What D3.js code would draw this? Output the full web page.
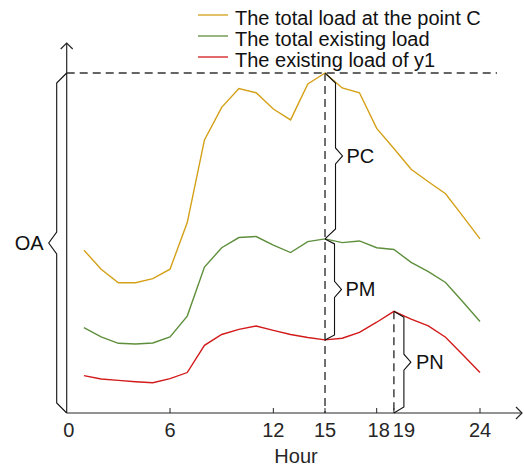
<html>
<head>
<title>Load at point C</title>
<style>
body { margin: 0; background: white; }
svg text { font-family: Arial, 'Liberation Sans', sans-serif; }
.tick-label { font-size: 20px; fill: #262626; }
.legend text { font-size: 20px; fill: #111; }
.brace { fill: none; stroke: #111; stroke-width: 1.1; }
.brace-label { font-size: 20px; fill: #111; }
.guide { stroke: #333; stroke-width: 1.4; stroke-dasharray: 8 5; }
</style>
</head>
<body>
<svg id='plot' width='524' height='471'></svg>

<script src='https://cdn.jsdelivr.net/npm/d3@7'></script>
<script>
// Hours 1..24
const hours = [1, 2, 3, 4, 5, 6, 7, 8, 9, 10, 11, 12,
               13, 14, 15, 16, 17, 18, 19, 20, 21, 22, 23, 24];

// The total load at the point C
const totalC = [47.9, 42.3, 38.3, 38.3, 39.5, 42.3, 56.0, 80.3, 89.9, 95.4, 94.2, 89.4,
                86.2, 96.8, 100.0, 95.6, 94.2, 83.7, 77.8, 71.7, 68.0, 64.5, 57.9, 51.2];
// The total existing load
const totalExisting = [25.1, 22.4, 20.5, 20.3, 20.6, 22.4, 28.5, 42.9, 48.6, 51.6, 51.9, 49.4,
                       47.2, 50.4, 51.2, 50.1, 50.6, 48.6, 48.1, 44.3, 41.6, 38.4, 32.7, 26.9];
// The existing load of y1
const existingY1 = [11.0, 10.0, 9.6, 9.2, 8.9, 10.1, 11.9, 19.9, 23.1, 24.6, 25.6, 24.3,
                    23.1, 22.2, 21.5, 22.0, 23.7, 26.7, 29.9, 27.6, 25.6, 22.3, 17.1, 11.9];

const seriesNames = ['The total load at the point C', 'The total existing load', 'The existing load of y1'];
const seriesColors = ['#d4a017', '#5e8f3c', '#d21a1a'];
const xTicks = [0, 6, 12, 15, 18, 19, 24];

const svg = d3.select('#plot');

const x = d3.scaleLinear().domain([0, 24]).range([66.7, 480]);
const y = d3.scaleLinear().domain([0, 100]).range([413, 73]);

const axisColor = '#262626';

// Axes with arrow heads.
const x0 = x(0), y0 = y(0);
const xEnd = 522, yEnd = 43;
svg.append('line')
  .attr('x1', x0).attr('y1', y0).attr('x2', xEnd).attr('y2', y0)
  .attr('stroke', axisColor).attr('stroke-width', 1.2);
svg.append('line')
  .attr('x1', x0).attr('y1', y0).attr('x2', x0).attr('y2', yEnd)
  .attr('stroke', axisColor).attr('stroke-width', 1.2);
svg.append('path')
  .attr('d', `M${xEnd - 6},${y0 - 6} L${xEnd},${y0} L${xEnd - 6},${y0 + 6}`)
  .attr('fill', 'none').attr('stroke', axisColor).attr('stroke-width', 1.2);
svg.append('path')
  .attr('d', `M${x0 - 6},${yEnd + 6} L${x0},${yEnd} L${x0 + 6},${yEnd + 6}`)
  .attr('fill', 'none').attr('stroke', axisColor).attr('stroke-width', 1.2);

// Ticks (inside) and tick labels; 18 and 19 are nudged apart.
const labelNudge = {0: 2, 18: 2, 19: 10};
const ticks = svg.append('g');
ticks.selectAll('line').data(xTicks.filter(d => d > 0)).enter().append('line')
  .attr('x1', d => x(d)).attr('x2', d => x(d))
  .attr('y1', y0).attr('y2', y0 - 5)
  .attr('stroke', axisColor).attr('stroke-width', 1);
ticks.selectAll('text').data(xTicks).enter().append('text')
  .attr('class', 'tick-label')
  .attr('x', d => x(d) + (labelNudge[d] || 0))
  .attr('y', 437)
  .attr('text-anchor', 'middle')
  .text(d => d);

svg.append('text')
  .attr('class', 'tick-label')
  .attr('x', 296).attr('y', 463)
  .attr('text-anchor', 'middle')
  .text('Hour');

// Dashed guide lines.
const peakIdx = totalC.indexOf(d3.max(totalC));
const redPeakIdx = existingY1.indexOf(d3.max(existingY1));
svg.append('line').attr('class', 'guide')
  .attr('x1', x0).attr('x2', 497)
  .attr('y1', y(totalC[peakIdx])).attr('y2', y(totalC[peakIdx]));
svg.append('line').attr('class', 'guide')
  .attr('x1', x(hours[peakIdx])).attr('x2', x(hours[peakIdx]))
  .attr('y1', y(totalC[peakIdx])).attr('y2', y0);
svg.append('line').attr('class', 'guide')
  .attr('x1', x(hours[redPeakIdx])).attr('x2', x(hours[redPeakIdx]))
  .attr('y1', y(existingY1[redPeakIdx])).attr('y2', y0);

// Series lines.
const line = d3.line()
  .x((d, i) => x(hours[i]))
  .y(d => y(d));
[totalC, totalExisting, existingY1].forEach(function (s, k) {
  svg.append('path')
    .datum(s)
    .attr('d', line)
    .attr('fill', 'none')
    .attr('stroke', seriesColors[k])
    .attr('stroke-width', 1.4);
});

// Curly braces: dir = +1 to the right, -1 to the left.
function brace(xa, yTop, yBot, dir, dx, dy, tip, half) {
  const xb = xa + dir * dx;
  const mid = (yTop + yBot) / 2;
  const p = d3.path();
  p.moveTo(xa, yTop);
  p.lineTo(xb, yTop + dy);
  p.lineTo(xb, mid - half);
  p.lineTo(xb + dir * tip, mid);
  p.lineTo(xb, mid + half);
  p.lineTo(xb, yBot - dy);
  p.lineTo(xa, yBot);
  svg.append('path').attr('class', 'brace').attr('d', p.toString());
  return {x: xb + dir * tip, y: mid};
}

function braceLabel(pos, txt, anchor, gap) {
  svg.append('text')
    .attr('class', 'brace-label')
    .attr('x', pos.x + gap)
    .attr('y', pos.y + 7)
    .attr('text-anchor', anchor)
    .text(txt);
}

const xPeak = x(hours[peakIdx]);
const xRed = x(hours[redPeakIdx]);

let pos = brace(x0, y(totalC[peakIdx]), y0, -1, 10, 10, 8, 11);
braceLabel(pos, 'OA', 'end', -5);

pos = brace(xPeak, y(totalC[peakIdx]), y(totalExisting[peakIdx]), 1, 10.5, 10, 7, 8);
braceLabel(pos, 'PC', 'start', 4);

pos = brace(xPeak, y(totalExisting[peakIdx]), y(existingY1[peakIdx]), 1, 9.5, 5, 7, 8);
braceLabel(pos, 'PM', 'start', 4);

pos = brace(xRed, y(existingY1[redPeakIdx]), y0, 1, 10, 6, 7, 8);
braceLabel(pos, 'PN', 'start', 5);

// Legend.
const legend = svg.append('g').attr('class', 'legend');
const rows = legend.selectAll('g').data(seriesNames).enter().append('g')
  .attr('transform', (d, i) => `translate(198, ${15 + i * 21})`);
rows.append('line')
  .attr('x1', 0).attr('x2', 30).attr('y1', 0).attr('y2', 0)
  .attr('stroke', (d, i) => seriesColors[i]).attr('stroke-width', 1.3);
rows.append('text')
  .attr('x', 37).attr('y', 10)
  .text(d => d);
</script>
</body>
</html>
